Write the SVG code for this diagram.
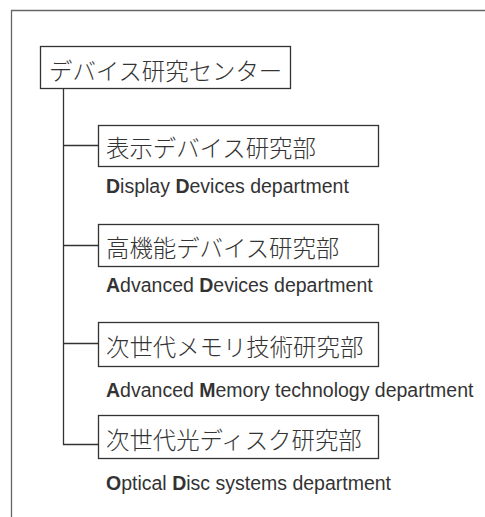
<svg xmlns="http://www.w3.org/2000/svg" width="485" height="517" viewBox="0 0 485 517">
<style>
.bg{fill:#ffffff}
.frame{fill:none;stroke:#666;stroke-width:1.3}
.box{fill:#fff;stroke:#333;stroke-width:1.3}
.conn{fill:none;stroke:#333;stroke-width:1.3}
.jp{font-family:"Noto Sans CJK JP","Noto Sans CJK SC",sans-serif;font-size:23.4px;fill:#333;font-weight:300}
.en{font-family:"Liberation Sans",Arial,sans-serif;font-size:19.5px;fill:#333}
.b{font-weight:bold}
</style>
<rect class="bg" x="0" y="0" width="485" height="517"/>
<path class="frame" d="M11.5,517 V10.5 H485"/>
<g id="connectors">
<path class="conn" d="M63.5,89 V444.5 H98"/>
<path class="conn" d="M63.5,145.5 H98"/>
<path class="conn" d="M63.5,245.5 H98"/>
<path class="conn" d="M63.5,343.5 H98"/>
</g>
<g id="root">
<rect class="box" x="40.5" y="46.5" width="250" height="42"/>
<text class="jp" x="49" y="80" font-size="23">デバイス研究センター</text>
</g>
<g id="display">
<rect class="box" x="98.5" y="125.5" width="280" height="41"/>
<text class="jp" x="106" y="157">表示デバイス研究部</text>
<text class="en" x="106" y="193"><tspan class="b">D</tspan>isplay <tspan class="b">D</tspan>evices department</text>
</g>
<g id="advanced">
<rect class="box" x="98.5" y="224.5" width="280" height="42"/>
<text class="jp" x="106" y="257">高機能デバイス研究部</text>
<text class="en" x="106" y="292"><tspan class="b">A</tspan>dvanced <tspan class="b">D</tspan>evices department</text>
</g>
<g id="memory">
<rect class="box" x="98.5" y="322.5" width="280" height="44"/>
<text class="jp" x="106" y="356">次世代メモリ技術研究部</text>
<text class="en" x="106" y="397"><tspan class="b">A</tspan>dvanced <tspan class="b">M</tspan>emory technology department</text>
</g>
<g id="optical">
<rect class="box" x="98.5" y="415.5" width="280" height="43"/>
<text class="jp" x="106" y="449">次世代光ディスク研究部</text>
<text class="en" x="106" y="490"><tspan class="b">O</tspan>ptical <tspan class="b">D</tspan>isc systems department</text>
</g>
</svg>
